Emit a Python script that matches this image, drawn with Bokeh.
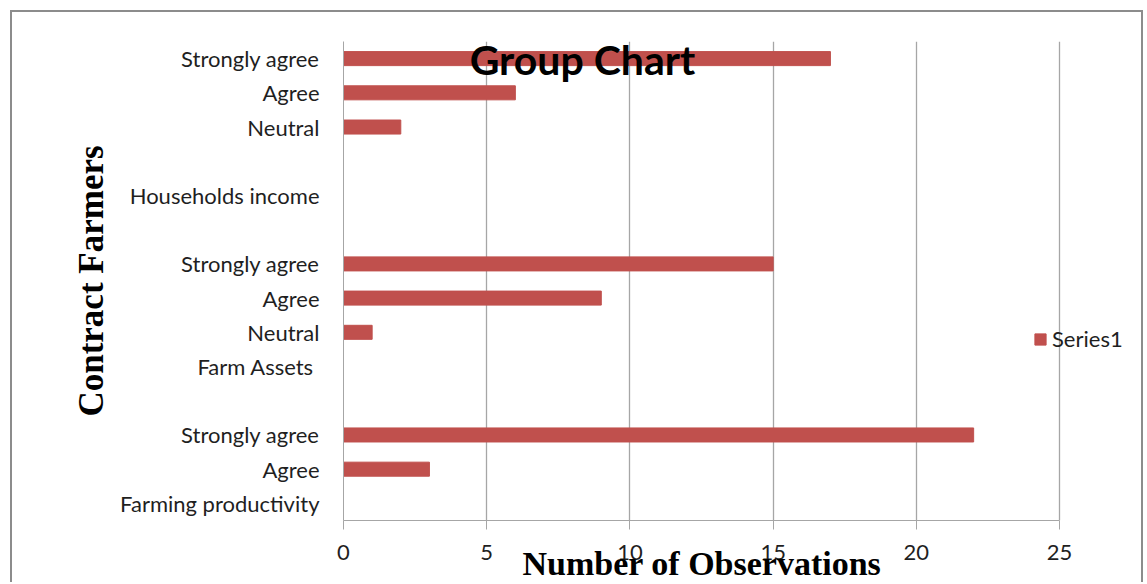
from bokeh.plotting import figure
from bokeh.models import (FixedTicker, Legend, LegendItem, Label,
                          ColumnDataSource, Range1d)
from bokeh.embed import file_html
from bokeh.resources import INLINE

# Categories from bottom to top (as Excel draws them)
categories = ["Farming productivity", "Agree", "Strongly agree", "",
              "Farm Assets ", "Neutral", "Agree", "Strongly agree", "",
              "Households income", "", "Neutral", "Agree", "Strongly agree"]
values = [0, 3, 22, 0, 0, 1, 9, 15, 0, 0, 0, 2, 6, 17]
x_ticks = [0, 5, 10, 15, 20, 25]

positions = list(range(len(categories)))
bar_y = [pos for pos, v in zip(positions, values) if v > 0]
bar_v = [v for v in values if v > 0]
src = ColumnDataSource(dict(y=bar_y, right=bar_v))

BAR = "#C0504D"
GRID = "#a6a6a6"
TXT = "#1f1f1f"

# frame extends right of the axis end (25) to leave room for the legend
p = figure(width=1133, height=572, output_backend="svg", toolbar_location=None,
           x_range=Range1d(0, 28), y_range=Range1d(-0.5, len(categories) - 0.5),
           min_border_left=331, min_border_right=0, min_border_top=29,
           min_border_bottom=63)
p.outline_line_color = None
p.styles = {"border-top": "2px solid #8c8c8c", "border-left": "2px solid #8c8c8c",
            "border-right": "2px solid #8c8c8c",
            "margin-left": "10px", "margin-top": "10px"}

r = p.hbar(y="y", left=0, right="right", height=0.41, source=src,
           fill_color=BAR, line_color=BAR)

# x axis
p.xaxis.ticker = FixedTicker(ticks=x_ticks)
p.xaxis.bounds = (x_ticks[0], x_ticks[-1])
p.xaxis.axis_line_color = GRID
p.xaxis.major_tick_line_color = GRID
p.xaxis.major_tick_out = 9
p.xaxis.major_tick_in = 0
p.xaxis.minor_tick_line_color = None
p.xaxis.major_label_text_font = "Lato"
p.xaxis.major_label_text_font_size = "22px"
p.xaxis.major_label_text_color = TXT
p.xaxis.major_label_standoff = 15
# trailing no-break spaces centre the title under the 0-25 axis, not the frame
p.xaxis.axis_label = "Number of Observations" + "\u00a0" * 10
p.xaxis.axis_label_text_font = "Liberation Serif"
p.xaxis.axis_label_text_font_style = "bold"
p.xaxis.axis_label_text_font_size = "34px"
p.xaxis.axis_label_text_color = "#000000"
p.xaxis.axis_label_standoff = -18

# y axis
p.yaxis.ticker = FixedTicker(ticks=positions)
p.yaxis.major_label_overrides = {i: c for i, c in enumerate(categories)}
p.yaxis.axis_line_color = GRID
p.yaxis.major_tick_line_color = None
p.yaxis.minor_tick_line_color = None
p.yaxis.major_label_text_font = "Lato"
p.yaxis.major_label_text_font_size = "22px"
p.yaxis.major_label_text_color = TXT
p.yaxis.major_label_standoff = 18
p.yaxis.axis_label = "Contract Farmers"
p.yaxis.axis_label_text_font = "Liberation Serif"
p.yaxis.axis_label_text_font_style = "bold"
p.yaxis.axis_label_text_font_size = "35px"
p.yaxis.axis_label_text_color = "#000000"
p.yaxis.axis_label_standoff = 6

p.xgrid.ticker = FixedTicker(ticks=x_ticks[1:])
p.xgrid.grid_line_color = GRID
p.xgrid.grid_line_width = 1.3
p.ygrid.grid_line_color = None

# title inside the plot area
title = Label(x=568, y=45, x_units="canvas", y_units="canvas", text="Group Chart",
              text_font="Lato", text_font_style="bold", text_font_size="41px",
              text_align="center", text_baseline="middle", text_color="#000000")
p.add_layout(title)

legend = Legend(items=[LegendItem(label="Series1", renderers=[r])],
                location=(690, 168), glyph_width=14, glyph_height=14,
                label_standoff=5, padding=0, margin=0, border_line_color=None,
                background_fill_alpha=0, label_text_font="Lato",
                label_text_font_size="22px", label_text_color=TXT)
p.add_layout(legend)

open("out.html", "w").write(file_html(p, INLINE))
